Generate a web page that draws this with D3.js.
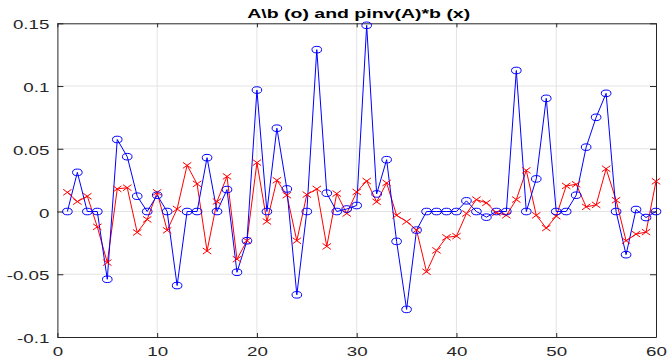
<!DOCTYPE html>
<html>
<head>
<meta charset="utf-8">
<script src="https://cdn.jsdelivr.net/npm/d3@7"></script>
<style>
  html, body { margin: 0; padding: 0; background: #ffffff; }
  svg { display: block; }
</style>
</head>
<body>
<svg id="chart" width="667" height="357"></svg>
<script>
// Index of each solution component
const xIndex = d3.range(1, 61);

// A\b solution (circles)
const backslashValues = [
  0, 0.0312, 0, 0, -0.054, 0.0574, 0.0437, 0.0122, 0, 0.013,
  0, -0.059, 0, 0, 0.0429, 0, 0.0175, -0.0484, -0.0233, 0.0968,
  0, 0.0664, 0.018, -0.0664, 0, 0.129, 0.0146, 0, 0.002, 0.0048,
  0.1484, 0.014, 0.0413, -0.0238, -0.078, -0.0148, 0, 0, 0, 0,
  0.0085, 0, -0.0045, 0, 0, 0.1124, 0, 0.026, 0.0902, 0,
  0, 0.013, 0.0513, 0.0751, 0.0942, 0, -0.0344, 0.0016, -0.0048, 0
];

// pinv(A)*b solution (crosses)
const pinvValues = [
  0.0153, 0.0079, 0.0122, -0.0122, -0.0407, 0.018, 0.019, -0.0167, -0.0063, 0.0153,
  -0.015, 0.002, 0.0368, 0.022, -0.0315, 0.008, 0.028, -0.038, -0.0233, 0.039,
  -0.008, 0.0249, 0.013, -0.0233, 0.0135, 0.018, -0.0278, 0.0143, -0.0016, 0.0156,
  0.0243, 0.0077, 0.0228, -0.003, -0.008, -0.0148, -0.048, -0.031, -0.0206, -0.0196,
  -0.0016, 0.0095, 0.0069, -0.001, -0.003, 0.0095, 0.0328, -0.003, -0.0132, -0.0037,
  0.0204, 0.0217, 0.0037, 0.0053, 0.0341, 0.009, -0.0233, -0.018, -0.0164, 0.0241
];

const xTicks = [0, 10, 20, 30, 40, 50, 60];
const yTicks = [-0.1, -0.05, 0, 0.05, 0.1, 0.15];
const yTickLabels = ["-0.1", "-0.05", "0", "0.05", "0.1", "0.15"];
const titleText = "A\\b (o) and pinv(A)*b (x)";

const svg = d3.select("#chart");
const stretch = 1.5;          // horizontal text stretch
const axisColor = "#262626";
const font = "'Liberation Sans', Arial, Helvetica, sans-serif";

const x = d3.scaleLinear().domain([0, 60]).range([57.4, 656]);
const y = d3.scaleLinear().domain([-0.1, 0.15]).range([337, 23.3]);

const plotLeft = x.range()[0], plotRight = x.range()[1];
const plotTop = y.range()[1], plotBottom = y.range()[0];

// Grid lines
const grid = svg.append("g").attr("stroke", "#e3e3e3").attr("stroke-width", 1);
grid.selectAll("line.gx")
  .data(xTicks.filter(t => t > 0 && t < 60))
  .join("line")
  .attr("x1", d => x(d)).attr("x2", d => x(d))
  .attr("y1", plotTop).attr("y2", plotBottom);
grid.selectAll("line.gy")
  .data(yTicks.filter(t => t > -0.1 && t < 0.15))
  .join("line")
  .attr("x1", plotLeft).attr("x2", plotRight)
  .attr("y1", d => y(d)).attr("y2", d => y(d));

// Axes with inward ticks on all four sides
function styleAxis(g) {
  g.selectAll("path.domain").attr("stroke", axisColor).attr("stroke-width", 1);
  g.selectAll(".tick line").attr("stroke", axisColor).attr("stroke-width", 1);
}

const bottomAxis = svg.append("g")
  .attr("transform", `translate(0,${plotBottom})`)
  .call(d3.axisBottom(x).tickValues(xTicks).tickSizeInner(-4).tickSizeOuter(0).tickFormat(d3.format("d")));
styleAxis(bottomAxis);
bottomAxis.selectAll(".tick text")
  .attr("y", 19).attr("dy", null)
  .attr("transform", `scale(${stretch},1)`)
  .attr("fill", axisColor)
  .style("font-family", font).style("font-size", "12.5px");

const topAxis = svg.append("g")
  .attr("transform", `translate(0,${plotTop})`)
  .call(d3.axisTop(x).tickValues(xTicks).tickSizeInner(-4).tickSizeOuter(0).tickFormat(""));
styleAxis(topAxis);

const leftAxis = svg.append("g")
  .attr("transform", `translate(${plotLeft},0)`)
  .call(d3.axisLeft(y).tickValues(yTicks).tickSizeInner(-6).tickSizeOuter(0)
    .tickFormat((d, i) => yTickLabels[i]));
styleAxis(leftAxis);
leftAxis.selectAll(".tick text")
  .attr("x", -8 / stretch).attr("dy", "5.5")
  .attr("transform", `scale(${stretch},1)`)
  .attr("fill", axisColor)
  .style("font-family", font).style("font-size", "12.5px");

const rightAxis = svg.append("g")
  .attr("transform", `translate(${plotRight},0)`)
  .call(d3.axisRight(y).tickValues(yTicks).tickSizeInner(-6).tickSizeOuter(0).tickFormat(""));
styleAxis(rightAxis);

// Series
const line = d3.line().x((d, i) => x(xIndex[i])).y(d => y(d));

svg.append("path")
  .datum(pinvValues)
  .attr("fill", "none").attr("stroke", "#ff0000").attr("stroke-width", 1)
  .attr("d", line);

svg.append("path")
  .datum(backslashValues)
  .attr("fill", "none").attr("stroke", "#0000ff").attr("stroke-width", 1)
  .attr("d", line);

// Cross markers for pinv(A)*b
const hx = 4.2, hy = 3;
svg.append("g").selectAll("path")
  .data(pinvValues)
  .join("path")
  .attr("d", (d, i) => {
    const cx = x(xIndex[i]), cy = y(d);
    return `M${cx - hx},${cy - hy}L${cx + hx},${cy + hy}M${cx - hx},${cy + hy}L${cx + hx},${cy - hy}`;
  })
  .attr("stroke", "#ff0000").attr("stroke-width", 1).attr("fill", "none");

// Circle markers for A\b
svg.append("g").selectAll("ellipse")
  .data(backslashValues)
  .join("ellipse")
  .attr("cx", (d, i) => x(xIndex[i]))
  .attr("cy", d => y(d))
  .attr("rx", 4.8).attr("ry", 3.3)
  .attr("stroke", "#0000ff").attr("stroke-width", 1).attr("fill", "none");

// Title
svg.append("text")
  .attr("transform", `translate(${(plotLeft + plotRight) / 2 + 2},18) scale(${stretch},1)`)
  .attr("text-anchor", "middle")
  .style("font-family", font).style("font-size", "13px").style("font-weight", "bold")
  .attr("fill", "#000000")
  .text(titleText);
</script>
</body>
</html>
